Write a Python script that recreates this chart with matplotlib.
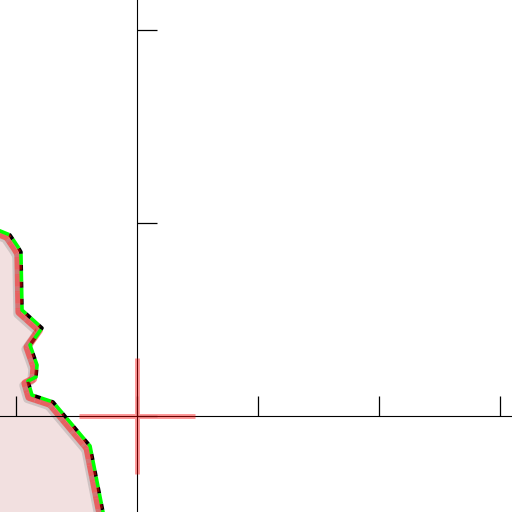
import matplotlib
matplotlib.use('Agg')
import matplotlib.pyplot as plt
import matplotlib.patheffects as pe
import numpy as np

# boundary line (data units)
line_x = [-1.25, -1.132, -1.050, -0.983, -0.959, -0.950, -0.785, -0.884,
          -0.826, -0.835, -0.901, -0.868, -0.694, -0.388, -0.281, -0.26]
line_y = [0.985, 0.959, 0.938, 0.876, 0.850, 0.549, 0.456, 0.368,
          0.264, 0.202, 0.181, 0.109, 0.073, -0.155, -0.497, -0.6]

x_ticks = [-1, 0, 1, 2, 3]
y_ticks = [0, 1, 2]
origin = [0.0, 0.0]

fig = plt.figure(figsize=(5.12, 5.12), dpi=100)
ax = fig.add_axes([0, 0, 1, 1])
ax.set_xlim(-1.132, 3.099)
ax.set_ylim(-0.497, 2.155)

# 移动坐标轴
ax.spines['right'].set_color('none')
ax.spines['top'].set_color('none')
ax.spines['bottom'].set_position(('data', 0))
ax.spines['left'].set_position(('data', 0))
ax.xaxis.set_ticks_position('bottom')
ax.yaxis.set_ticks_position('left')
ax.set_xticks(x_ticks)
ax.set_yticks(y_ticks)
ax.set_xticklabels([])
ax.set_yticklabels([])
ax.tick_params(direction='in', length=14.5, width=0.9)

# filled region left of the line
x_arr = np.array(line_x)
y_arr = np.array(line_y)
ax.fill_betweenx(y_arr, ax.get_xlim()[0] - 1, x_arr, color='#f2e0e0', lw=0, zorder=1)

# line with shadow + red stroke, green/black dashes on top
ax.plot(line_x, line_y, color='lime', lw=2.6, dashes=(3.0, 1.7), gapcolor='black',
        zorder=2, solid_joinstyle='miter',
        path_effects=[pe.SimpleLineShadow(offset=(-3.5, -3), shadow_color='grey', alpha=0.3, linewidth=5.5),
                      pe.Stroke(offset=(-2, -1.5), linewidth=5.5, foreground='red', alpha=0.5),
                      pe.Normal()])

# red cross at the origin
ax.plot([origin[0]], [origin[1]], marker='+', markersize=83, mew=3.6,
        color='red', alpha=0.4, zorder=3, clip_on=False)

plt.savefig('out.png', dpi=100)
